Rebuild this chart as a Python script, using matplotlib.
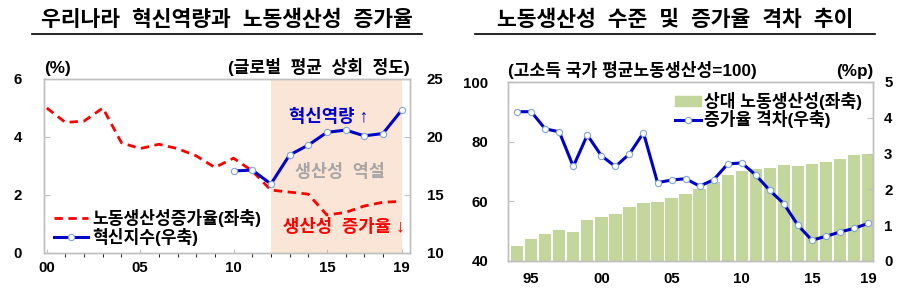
import matplotlib
matplotlib.use("Agg")
import matplotlib.pyplot as plt
from matplotlib.lines import Line2D
from matplotlib.patches import Patch

plt.rcParams['font.family'] = ['Liberation Sans', 'Noto Sans CJK KR']
plt.rcParams['font.weight'] = 'bold'

# left chart data
years_l = list(range(2000, 2020))
prod_growth = [5.0, 4.5, 4.55, 5.0, 3.8, 3.6, 3.75, 3.6, 3.35, 2.95,
               3.27, 2.83, 2.17, 2.1, 2.03, 1.31, 1.4, 1.62, 1.75, 1.78]
innov_years = list(range(2010, 2020))
innov_index = [17.07, 17.15, 15.95, 18.45, 19.3, 20.4, 20.6, 20.1, 20.3, 22.3]
xticks_l = [2000, 2005, 2010, 2015, 2019]
xlabels_l = ['00', '05', '10', '15', '19']

# right chart data
years_r = list(range(1994, 2020))
rel_prod = [45.0, 47.4, 49.2, 50.3, 49.7, 53.7, 54.6, 55.9, 58.1, 59.3, 59.9, 61.0, 62.6,
            64.2, 66.6, 68.7, 70.3, 70.8, 71.2, 72.3, 72.0, 72.6, 73.3, 74.3, 75.4, 75.9]
growth_gap = [4.17, 4.17, 3.69, 3.61, 2.64, 3.52, 2.94, 2.64, 2.99, 3.58, 2.19, 2.26, 2.3,
              2.09, 2.27, 2.71, 2.74, 2.4, 1.97, 1.6, 1.0, 0.58, 0.69, 0.81, 0.91, 1.05]
xticks_r = [1995, 2000, 2005, 2010, 2015, 2019]
xlabels_r = ['95', '00', '05', '10', '15', '19']

BLUE = '#0000CC'
RED = '#FF0000'
GREY = '#BFBFBF'
GREEN = '#C3D69B'
TICK_FS = 10.8
LAB_FS = 12.3

fig = plt.figure(figsize=(9.05, 2.98), dpi=100)


def style_axes(ax):
    for s in ax.spines.values():
        s.set_color(GREY)
        s.set_linewidth(1.0)
    ax.tick_params(direction='in', color=GREY, length=4, labelsize=TICK_FS)


def blue_line():
    return dict(color=BLUE, lw=2.2, marker='o', ms=4.5, mfc='white', mec='#7FA6D6', mew=0.8)


# ---------- left chart ----------
ax1 = fig.add_axes([44 / 905, 1 - 253 / 298, 366 / 905, 174 / 298])
ax1.axvspan(2012, 2019, color='#FBE5D6', lw=0, zorder=0)
ax1.plot(years_l, prod_growth, color=RED, ls=(0, (3, 2)), lw=2)
ax1.set_ylim(0, 6)
ax1.set_yticks([0, 2, 4, 6])
ax1.set_xlim(1999.85, 2019.45)
ax1.set_xticks(xticks_l)
ax1.set_xticklabels(xlabels_l)
ax1.set_xticks(years_l, minor=True)
style_axes(ax1)
ax1.tick_params(axis='x', which='both', length=3, pad=6)
ax1.tick_params(axis='y', pad=16)
for lab in ax1.get_xticklabels() + ax1.get_yticklabels():
    lab.set_fontweight('bold')

ax1b = ax1.twinx()
ax1b.plot(innov_years, innov_index, **blue_line())
ax1b.set_ylim(10, 25)
ax1b.set_yticks([10, 15, 20, 25])
style_axes(ax1b)
ax1b.tick_params(axis='y', pad=12)
for lab in ax1b.get_yticklabels():
    lab.set_fontweight('bold')

ax1.text(0.0, 1.015, '(%)', transform=ax1.transAxes, fontsize=LAB_FS, ha='left', va='bottom')
ax1.text(1.0, 1.015, '(글로벌  평균  상회  정도)', transform=ax1.transAxes, fontsize=LAB_FS,
         ha='right', va='bottom')
ax1b.text(2015.1, 21.7, '혁신역량 ↑', color=BLUE, fontsize=12.8, ha='center', va='center')
ax1b.text(2015.7, 17.05, '생산성  역설', color='#A6A6A6', fontsize=12.5, ha='center', va='center')
ax1b.text(2015.9, 12.2, '생산성  증가율 ↓', color=RED, fontsize=12.8, ha='center', va='center')

handles_l = [Line2D([], [], color=RED, ls=(0, (3, 2)), lw=2),
             Line2D([], [], **blue_line())]
ax1b.legend(handles_l, ['노동생산성증가율(좌축)', '혁신지수(우축)'], loc='lower left',
            bbox_to_anchor=(0.0, -0.02), frameon=False, fontsize=LAB_FS, handlelength=2.0,
            handletextpad=0.2, labelspacing=0.05, borderaxespad=0.2)

fig.text(227 / 905, 1 - 21 / 298, '우리나라  혁신역량과  노동생산성  증가율', fontsize=15.5,
         fontweight='bold', ha='center', va='center')
fig.add_artist(Line2D([32 / 905, 422 / 905], [1 - 34 / 298, 1 - 34 / 298], color='black', lw=1.2))

# ---------- right chart ----------
ax2 = fig.add_axes([508 / 905, 1 - 261 / 298, 365 / 905, 179 / 298])
ax2.bar(years_r, [v - 40 for v in rel_prod], bottom=40, width=0.88, color=GREEN, zorder=1)
ax2.set_ylim(40, 100)
ax2.set_yticks([40, 60, 80, 100])
ax2.set_xlim(1993.35, 2019.35)
ax2.set_xticks(xticks_r)
ax2.set_xticklabels(xlabels_r)
style_axes(ax2)
ax2.tick_params(axis='x', length=0, pad=8)
ax2.tick_params(axis='y', pad=14)
for lab in ax2.get_xticklabels() + ax2.get_yticklabels():
    lab.set_fontweight('bold')

ax2b = ax2.twinx()
ax2b.plot(years_r, growth_gap, **blue_line())
ax2b.set_ylim(0, 5)
ax2b.set_yticks([0, 1, 2, 3, 4, 5])
style_axes(ax2b)
ax2b.tick_params(axis='y', pad=8)
for lab in ax2b.get_yticklabels():
    lab.set_fontweight('bold')

ax2.text(0.0, 1.015, '(고소득 국가 평균노동생산성=100)', transform=ax2.transAxes, fontsize=LAB_FS,
         ha='left', va='bottom')
ax2.text(1.0, 1.015, '(%p)', transform=ax2.transAxes, fontsize=LAB_FS, ha='right', va='bottom')

handles_r = [Patch(color=GREEN), Line2D([], [], **blue_line())]
ax2b.legend(handles_r, ['상대 노동생산성(좌축)', '증가율 격차(우축)'], loc='upper left',
            bbox_to_anchor=(0.43, 1.0), frameon=False, fontsize=LAB_FS, handlelength=1.5,
            handleheight=0.5, handletextpad=0.2, labelspacing=0.0, borderaxespad=0.2)

fig.text(675 / 905, 1 - 21 / 298, '노동생산성  수준  및  증가율  격차  추이', fontsize=15.5,
         fontweight='bold', ha='center', va='center')
fig.add_artist(Line2D([475 / 905, 875 / 905], [1 - 34 / 298, 1 - 34 / 298], color='black', lw=1.2))

fig.savefig('out.png', dpi=100)
